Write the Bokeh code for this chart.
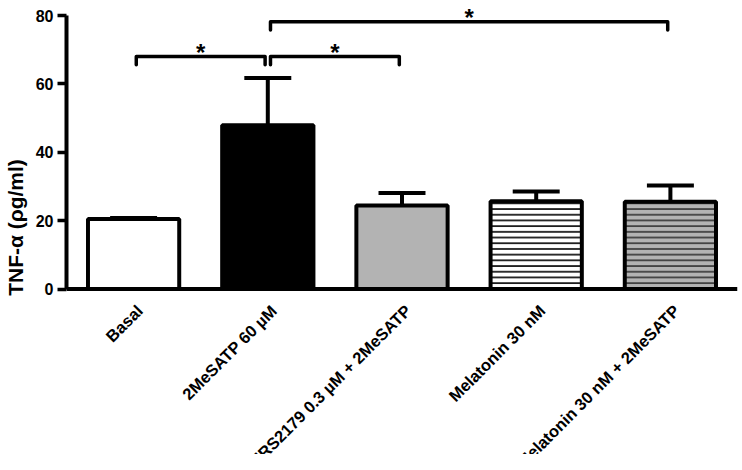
from math import pi
from bokeh.plotting import figure
from bokeh.models import ColumnDataSource, Range1d, FixedTicker, Span
from bokeh.core.properties import value
from bokeh.embed import file_html
from bokeh.resources import INLINE

# ---- data ----
categories = ["Basal", "2MeSATP 60 µM", "MRS2179 0.3 µM + 2MeSATP",
              "Melatonin 30 nM", "Melatonin 30 nM + 2MeSATP"]
means = [20.5, 47.9, 24.4, 25.7, 25.5]
sems = [0.3, 13.8, 3.7, 2.8, 4.8]
y_ticks = [0, 20, 40, 60, 80]

# significance brackets (category index pairs, bracket level)
bracket_from = [0, 1, 1]
bracket_to = [1, 2, 4]
bracket_y = [68.0, 68.0, 78.2]
bracket_label = ["*", "*", "*"]

# ---- styles ----
fills = ["white", "black", "#b3b3b3", "white", "#b3b3b3"]
hatches = [" ", " ", " ", "-", "-"]
hatch_colors = ["black", "black", "black", "black", "#333333"]
FONT = "Liberation Sans"

x = list(range(len(categories)))
src = ColumnDataSource(dict(x=x, top=means, fill=fills, hatch=hatches,
                            hcol=hatch_colors,
                            err=[m + s for m, s in zip(means, sems)]))

# frame spans the full height so the rotated category labels are not clipped
p = figure(frame_width=671, frame_height=454, output_backend="svg",
           toolbar_location=None, x_axis_location=None,
           x_range=Range1d(-0.5, len(categories) - 0.5),
           y_range=Range1d(-48.4, 84.4),
           min_border_left=58, min_border_right=3, min_border_top=0,
           min_border_bottom=0)
p.outline_line_color = None
p.xgrid.visible = False
p.ygrid.visible = False
p.background_fill_color = "white"

p.vbar(x="x", top="top", width=0.68, bottom=0, source=src,
       fill_color="fill", line_color="black", line_width=4,
       hatch_pattern="hatch", hatch_color="hcol", hatch_scale=5.7,
       hatch_weight=1.6)

# x axis line
p.add_layout(Span(location=0, dimension="width", line_color="black",
                  line_width=4))

# error bars (upper only)
p.segment(x0="x", y0="top", x1="x", y1="err", source=src,
          line_color="black", line_width=4)
cap_src = ColumnDataSource(dict(x0=[i - 0.175 for i in x],
                                x1=[i + 0.175 for i in x],
                                y=src.data["err"]))
p.segment(x0="x0", y0="y", x1="x1", y1="y", source=cap_src,
          line_color="black", line_width=4)

# brackets
leg = 2.4
inset = 0.02
xs, ys, sx, sy = [], [], [], []
for a, b, y in zip(bracket_from, bracket_to, bracket_y):
    xa, xb = a + inset, b - inset
    xs.append([xa, xa, xb, xb])
    ys.append([y - leg, y, y, y - leg])
    sx.append((xa + xb) / 2)
    sy.append(y + 1.3)
p.multi_line(xs=xs, ys=ys, line_color="black", line_width=3.5,
             line_join="round", line_cap="round")
p.text(x=sx, y=sy, text=bracket_label, text_align="center",
       text_baseline="alphabetic", text_font=value(FONT),
       text_font_style="bold", text_font_size="24px", text_color="black")

# rotated category labels below the axis line
p.text(x=[i + 0.045 for i in x], y=[-5.5] * len(x), text=categories,
       angle=pi / 4, text_align="right", text_baseline="middle",
       text_font=value(FONT), text_font_style="bold",
       text_font_size="16.5px", text_color="black")

ya = p.yaxis[0]
ya.ticker = FixedTicker(ticks=y_ticks)
ya.bounds = (0, 80)
ya.axis_line_width = 4
ya.axis_line_color = "black"
ya.major_tick_out = 9
ya.major_tick_in = 0
ya.major_tick_line_width = 3.5
ya.minor_tick_line_color = None
ya.major_label_text_font = FONT
ya.major_label_text_font_style = "bold"
ya.major_label_text_font_size = "16px"
ya.major_label_text_color = "black"
ya.major_label_standoff = 4
ya.axis_label = "TNF-α (ρg/ml)"
ya.axis_label_text_font = FONT
ya.axis_label_text_font_style = "bold"
ya.axis_label_text_font_size = "21px"
ya.axis_label_text_color = "black"
ya.axis_label_standoff = 6

open("out.html", "w").write(file_html(p, INLINE))
